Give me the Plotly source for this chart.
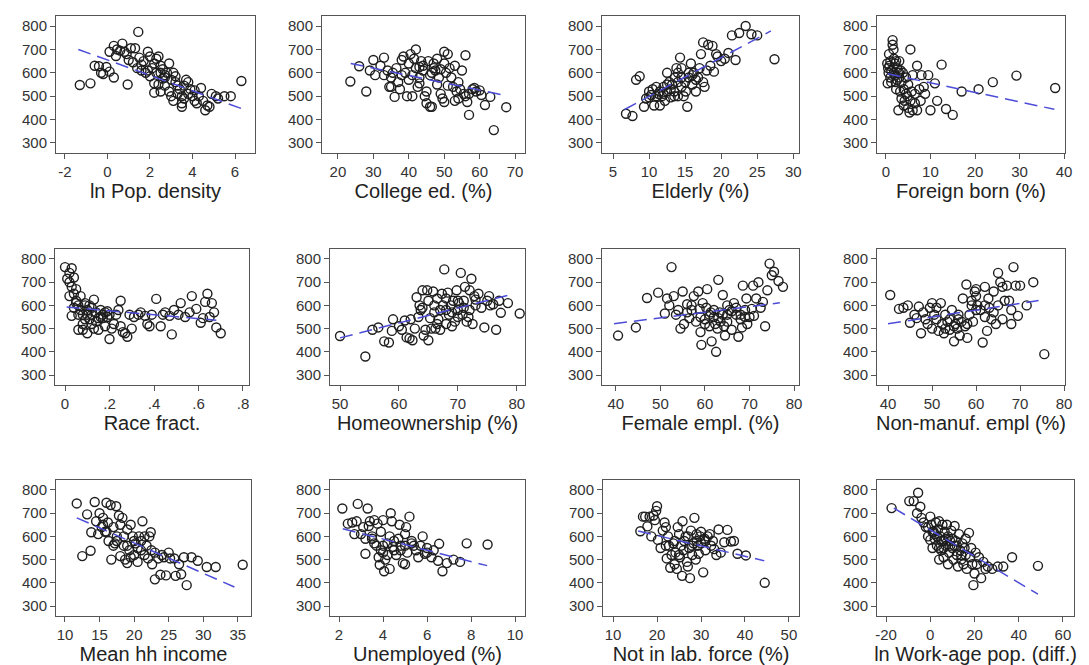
import plotly.graph_objects as go

# ---------------- data ----------------
titles = ["ln Pop. density", "College ed. (%)", "Elderly (%)", "Foreign born (%)",
          "Race fract.", "Homeownership (%)", "Female empl. (%)", "Non-manuf. empl (%)",
          "Mean hh income", "Unemployed (%)", "Not in lab. force (%)", "ln Work-age pop. (diff.)"]

p1 = [(-1.3,548),(-0.8,555),(-0.6,630),(-0.4,628),(-0.3,600),(-0.2,595),(-0.05,625),(0.1,605),(0.3,580),(0.95,550),
      (0.1,690),(0.3,715),(0.45,700),(0.4,672),(0.7,725),(0.8,690),(0.9,680),(1.1,705),(1.3,705),(1.2,645),(1.45,775),
      (1.5,665),(1.6,635),(1.7,650),(1.8,600),(1.9,690),(2.0,670),(2.1,620),(2.2,640),(2.3,660),(2.4,670),(2.5,630),
      (2.5,600),(2.6,615),(2.7,580),(2.9,640),(2.8,600),(3.0,570),(3.1,600),(2.2,555),(2.4,550),(2.5,520),(2.2,515),
      (2.7,545),(2.9,520),(3.0,500),(3.1,480),(3.2,560),(3.3,545),(3.4,530),(3.5,500),(3.5,470),(3.5,455),(3.6,490),
      (3.7,570),(3.8,560),(3.9,530),(4.0,500),(4.1,480),(4.2,470),(4.3,500),(4.4,535),(4.5,480),(4.6,440),(4.7,460),
      (4.8,455),(4.9,510),(5.1,500),(5.2,490),(5.5,500),(5.8,500),(6.3,565),(1.6,610),(1.9,610),(2.0,585),(2.3,600),
      (2.6,575),(3.3,510),(3.6,545),(1.0,655),(1.4,620),(0.6,695),(2.7,590),(3.2,585),(3.8,510),(4.1,525)]
p2 = [(23.5,563),(26,628),(28,520),(29,610),(30,655),(30.5,590),(32,630),(33,665),(33,590),(34,610),(34.5,540),(35,580),
      (35.5,600),(36,497),(36.5,620),(37,560),(37.5,530),(38,655),(38.5,670),(39,600),(39.5,500),(40,570),(40,640),
      (40.5,680),(41,500),(41.5,660),(42,700),(42,620),(42.5,540),(43,580),(43,555),(43.5,650),(44,610),(44.5,500),
      (45,520),(45,470),(45.5,650),(46,455),(46.5,455),(46.5,600),(47,640),(47,620),(47.5,610),(48,660),(48,550),
      (48.5,580),(49,510),(49.5,490),(50,475),(50,690),(50,640),(50.5,600),(51,680),(51.5,620),(52,580),(52.5,540),
      (53,630),(53,480),(53.5,520),(54,490),(54,560),(54.5,530),(55,610),(55.5,510),(56,675),(56.5,475),(57,420),
      (57,510),(58,530),(58.5,535),(59,520),(60,525),(60.5,505),(61.5,462),(63,497),(64,355),(67.5,453),(41,590),
      (44,630),(46,590),(49,615),(38,590),(43,625),(51,545),(56,500),(35,540)]
p3 = [(6.8,425),(7.7,415),(8.2,570),(8.7,585),(9.3,455),(9.6,490),(10.0,520),(10.3,505),(10.5,530),(10.7,460),(11.0,540),
      (11.3,510),(11.5,460),(11.8,500),(12.0,540),(12.2,480),(12.5,600),(12.5,520),(12.8,560),(13.0,495),(13.2,550),
      (13.5,520),(13.6,580),(13.8,620),(14.0,500),(14.0,600),(14.3,665),(14.5,620),(14.5,540),(14.8,500),(15.0,560),
      (15.1,520),(15.3,455),(15.5,580),(15.8,640),(16.0,550),(16.2,600),(16.5,520),(16.8,580),(17.0,620),(17.2,680),
      (17.5,560),(17.7,540),(17.5,730),(18.0,610),(18.2,720),(18.5,630),(18.8,715),(19.0,605),(19.3,680),(19.5,670),
      (20.0,650),(20.5,660),(21.0,685),(21.5,760),(22.0,655),(22.5,770),(23.4,800),(24.2,765),(25.0,760),(27.4,658),
      (11.5,520),(12.0,510),(13.0,530),(14.0,560),(14.5,580),(15.5,600),(16.0,590),(12.5,550),(13.5,500),(16.5,570),
      (11.0,500),(10.0,495)]
p4 = [(0.3,640),(0.4,555),(0.5,620),(0.6,600),(0.8,630),(1.0,650),(1.0,580),(1.2,610),(1.5,740),(1.5,720),(1.7,700),
      (1.8,660),(2.0,640),(2.0,590),(2.2,560),(2.3,530),(2.5,620),(2.7,600),(2.8,440),(3.0,650),(3.0,580),(3.2,520),
      (3.5,490),(3.5,560),(3.8,600),(4.0,460),(4.0,530),(4.2,480),(4.5,580),(4.8,500),(5.0,450),(5.0,550),(5.3,430),
      (5.5,700),(5.5,480),(5.8,520),(6.0,440),(6.0,590),(6.5,470),(7.0,630),(7.0,440),(7.5,530),(7.8,480),(8.0,590),
      (8.5,540),(8.8,510),(9.5,590),(10.0,440),(11.0,555),(11.5,480),(12.5,635),(13.5,445),(15.0,420),(17.0,520),
      (20.8,530),(24.0,560),(29.3,588),(38.0,535),(1.2,560),(1.8,600),(2.5,570),(3.3,610),(4.5,510),(0.7,680),
      (2.3,650),(3.0,600),(6.5,510)]
p5 = [(0.0,765),(0.01,715),(0.02,740),(0.02,700),(0.02,640),(0.03,760),(0.03,680),(0.04,720),(0.04,650),(0.03,555),
      (0.05,670),(0.05,620),(0.06,600),(0.06,495),(0.07,640),(0.07,580),(0.08,495),(0.08,560),(0.09,610),(0.09,540),
      (0.1,480),(0.1,580),(0.11,600),(0.12,560),(0.12,520),(0.13,625),(0.13,500),(0.14,570),(0.15,545),(0.15,495),
      (0.16,580),(0.17,560),(0.18,510),(0.18,570),(0.19,575),(0.2,560),(0.2,455),(0.21,500),(0.22,520),(0.23,560),
      (0.24,580),(0.25,620),(0.25,510),(0.26,485),(0.27,480),(0.28,465),(0.29,560),(0.3,500),(0.31,550),(0.33,560),
      (0.34,570),(0.36,555),(0.37,520),(0.38,510),(0.39,560),(0.41,628),(0.43,510),(0.44,560),(0.45,570),(0.47,555),
      (0.48,475),(0.49,580),(0.51,560),(0.52,610),(0.54,550),(0.56,570),(0.57,640),(0.59,585),(0.61,525),(0.62,545),
      (0.63,615),(0.64,650),(0.65,550),(0.66,610),(0.67,570),(0.68,505),(0.7,480),(0.1,560),(0.11,540),(0.14,530),
      (0.06,560),(0.09,600),(0.12,590),(0.16,550),(0.05,610),(0.08,520),(0.17,545),(0.19,550),(0.04,590)]
p6 = [(50,468),(54.3,380),(55.5,495),(56.5,505),(57.5,445),(58.3,440),(58.8,490),(59,540),(60,510),(60.5,495),(61,535),
      (61.3,462),(61.8,458),(62,540),(62.3,450),(62.7,500),(63,635),(63.3,550),(63.5,600),(64,665),(64,590),(64.2,470),
      (64.5,495),(64.8,665),(65,620),(65,450),(65.3,545),(65.5,500),(65.8,660),(66,600),(66.2,500),(66.5,630),(66.7,540),
      (67,580),(67,495),(67.3,650),(67.7,755),(68,630),(68,520),(68.3,655),(68.5,560),(68.8,600),(69,510),(69.2,620),
      (69.5,530),(69.8,665),(70,580),(70.2,610),(70.5,740),(70.8,560),(71,620),(71.2,680),(71.5,530),(71.8,550),
      (72,665),(72.3,715),(72.5,520),(72.8,640),(73,625),(73.5,650),(74,590),(74.5,505),(75,620),(75.3,640),(75.5,600),
      (76,605),(76.5,495),(77,620),(77.3,568),(78.5,610),(80.5,565),(63.7,580),(66,570),(67.5,600),(69,570),(70,620),
      (71,590),(72,580),(73,600),(68,580),(66.5,520),(70,550)]
p7 = [(40.5,470),(44.5,505),(47,632),(49.5,655),(51,565),(51.5,630),(52,600),(52.5,765),(53,640),(53.5,560),(54,580),
      (54.5,500),(55,660),(55.3,520),(56,605),(56.5,545),(57,580),(57.5,640),(58,530),(58.5,660),(58.8,585),(59,485),
      (59.2,430),(59.5,610),(60,540),(60.3,590),(60.5,670),(61,510),(61.3,570),(61.5,445),(62,550),(62.3,520),(62.5,400),
      (62.8,500),(63,710),(63.3,570),(63.5,530),(64,645),(64.3,510),(64.5,470),(65,560),(65.5,580),(66,495),(66.5,610),
      (67,560),(67.5,465),(68,540),(68.3,505),(68.5,685),(69,580),(69.3,630),(69.5,520),(70,550),(70.5,585),(70.8,685),
      (71,555),(71.5,630),(72,700),(72.5,590),(73,615),(73.5,510),(74,665),(74.5,780),(75,730),(75.5,745),(76.5,705),
      (77.5,680),(61,560),(62,580),(63,545),(64,560),(65,530),(66,575),(67,590),(68,560),(60,520),(59,550),(57,600),
      (56,570),(69,550),(65,600)]
p8 = [(40.5,645),(42.5,585),(43.5,590),(44.5,600),(45,525),(46,560),(47,595),(47.5,480),(48,570),(48.5,540),(49,520),
      (49.5,590),(50,500),(50,610),(50.5,560),(51,590),(51.5,490),(52,610),(52.3,520),(52.7,480),(53,500),(53.5,530),
      (54,495),(54.5,580),(55,445),(55.3,520),(55.7,500),(56,560),(56.3,470),(56.7,530),(57,630),(57.5,510),(57.8,690),
      (58,460),(58.5,560),(59,620),(59.3,530),(59.7,660),(60,670),(60,640),(60.3,600),(61,580),(61.5,440),(62,680),
      (62,550),(62.5,490),(62.8,630),(63,590),(63.5,540),(64,660),(64.5,520),(65,740),(65,600),(65.5,700),(66,680),
      (66,540),(66.5,620),(67,685),(67.5,620),(68,520),(68.5,765),(68,580),(69,685),(69.5,555),(70,685),(71.5,600),
      (73,700),(75.5,390),(54,540),(55,510),(56,540),(58,520),(60,580),(62,600),(64,570),(53,560),(51,540),(59,600),
      (46.5,545)]
p9 = [(11.7,742),(12.5,515),(13.2,695),(13.7,538),(13.8,618),(14.3,748),(14.5,665),(14.8,610),(15.0,700),(15.3,640),
      (15.5,680),(15.8,620),(16.0,745),(16.2,660),(16.3,580),(16.6,735),(16.7,500),(17.0,640),(17.2,570),(17.4,730),
      (17.5,600),(17.8,690),(18.0,650),(18.0,515),(18.3,680),(18.5,560),(18.7,500),(19.0,630),(19.0,485),(19.3,540),
      (19.5,650),(19.8,600),(20.0,520),(20.2,570),(20.5,490),(20.7,600),(21.0,580),(21.2,665),(21.5,520),(21.8,560),
      (22.0,505),(22.2,600),(22.4,618),(22.6,480),(23.0,530),(23.0,415),(23.5,505),(23.8,435),(24.0,520),(24.3,510),
      (24.6,432),(25.0,530),(25.2,505),(25.8,505),(26.0,430),(26.5,480),(26.8,437),(27.2,510),(27.6,390),(28.3,510),
      (29.2,495),(30.5,468),(31.8,468),(35.7,478),(16.0,620),(17.5,580),(19.0,560),(20.0,580),(21.0,540),(18.5,600),
      (15.5,650),(22.5,540),(19.5,510),(20.5,550),(17.0,560),(21.5,600)]
p10 = [(2.15,720),(2.4,655),(2.6,660),(2.7,610),(2.8,665),(2.85,740),(3.0,610),(3.1,640),(3.2,590),(3.2,525),(3.3,720),
       (3.35,645),(3.4,665),(3.5,600),(3.6,670),(3.6,570),(3.7,560),(3.75,655),(3.8,510),(3.85,478),(3.9,540),(4.0,670),
       (4.0,530),(4.05,450),(4.1,500),(4.2,520),(4.3,600),(4.3,460),(4.35,700),(4.4,665),(4.45,555),(4.5,540),(4.6,520),
       (4.7,590),(4.75,650),(4.8,540),(4.9,485),(5.0,610),(5.0,480),(5.05,640),(5.1,530),(5.2,685),(5.3,570),(5.4,560),
       (5.5,540),(5.6,510),(5.7,560),(5.8,600),(5.9,525),(6.0,550),(6.2,510),(6.3,540),(6.5,495),(6.55,568),(6.7,450),
       (6.9,485),(7.2,500),(7.5,490),(7.8,570),(8.75,565),(4.0,560),(4.5,580),(5.0,560),(3.5,590),(4.2,570),(5.3,580),
       (6.0,530),(3.9,620),(4.8,560)]
p11 = [(16.2,622),(16.8,685),(17.3,685),(17.8,643),(18.3,685),(18.7,600),(19.2,690),(19.5,670),(19.8,710),(20.0,730),
       (20.2,585),(20.8,550),(21.3,625),(21.7,660),(22.0,640),(22.2,505),(22.5,600),(22.7,560),(23.0,465),(23.3,520),
       (23.7,570),(24.0,480),(24.2,530),(24.5,460),(24.7,640),(25.0,610),(25.2,510),(25.5,560),(25.7,430),(25.8,665),
       (26.2,580),(26.5,600),(26.8,490),(27.0,470),(27.3,550),(27.5,420),(27.7,625),(28.0,520),(28.3,570),(28.5,680),
       (28.8,500),(29.0,610),(29.3,560),(29.5,525),(29.8,600),(30.0,620),(30.5,445),(30.8,590),(31.0,540),(31.5,600),
       (32.0,610),(32.3,560),(32.7,580),(33.0,545),(33.5,520),(34.0,630),(34.5,530),(35.3,575),(36.0,628),(36.8,578),
       (37.5,580),(38.3,525),(40.2,518),(44.5,400),(24.0,580),(26.0,540),(28.0,560),(30.0,570),(22.0,560),(27.0,600),
       (31.0,580),(25.0,520),(29.0,580)]
p12 = [(-17.5,722),(-9.5,752),(-7.5,752),(-5.5,788),(-4.5,728),(-6,700),(-4,680),(-3,660),(-2,640),(-1,600),(0,685),
       (0,585),(0.5,650),(1,550),(1.5,620),(2,590),(2.5,660),(3,560),(3.5,630),(4,665),(4,500),(4.5,600),(5,540),
       (5.5,650),(6,580),(6,510),(6.5,620),(7,560),(7.5,650),(8,480),(8,600),(8.5,530),(9,580),(9.5,625),(10,550),
       (10.5,500),(11,645),(11.5,580),(12,520),(12.5,470),(13,610),(13.5,540),(14,500),(14.5,570),(15,480),(15.5,550),
       (16,590),(16.5,460),(17.5,615),(18,510),(18.5,550),(19,480),(19.5,390),(20,440),(20.5,530),(21,480),(22,510),
       (23,420),(24,490),(25,460),(26,470),(28,460),(30.5,470),(33,470),(37,510),(48.7,473),(2,610),(3,600),(5,580),
       (7,590),(9,560),(11,560),(4,550),(6,550),(10,590),(12,560),(1,620),(-1,640),(14,520),(16,520)]
points = [p1, p2, p3, p4, p5, p6, p7, p8, p9, p10, p11, p12]

# fitted-line endpoints
fit_x = [(-1.37, 6.31), (23.6, 67.0), (6.6, 26.9), (0.4, 37.8), (0.0075, 0.68), (50.0, 78.4),
         (39.6, 76.8), (40.0, 74.2), (11.7, 34.5), (2.17, 8.73), (15.7, 44.4), (-16.5, 48.7)]
fit_y = [(700, 447), (640, 504), (443, 779), (596, 444), (593, 536), (460, 643),
         (521, 611), (521, 621), (680, 382), (633, 474), (623, 495), (722, 351)]

x_ticks = [[-2, 0, 2, 4, 6], [20, 30, 40, 50, 60, 70], [5, 10, 15, 20, 25, 30], [0, 10, 20, 30, 40],
           [0, 0.2, 0.4, 0.6, 0.8], [50, 60, 70, 80], [40, 50, 60, 70, 80], [40, 50, 60, 70, 80],
           [10, 15, 20, 25, 30, 35], [2, 4, 6, 8, 10], [10, 20, 30, 40, 50], [-20, 0, 20, 40, 60]]
x_ticktext = [["-2", "0", "2", "4", "6"], None, None, None, ["0", ".2", ".4", ".6", ".8"], None, None, None,
              None, None, None, ["-20", "0", "20", "40", "60"]]
y_ticks = [300, 400, 500, 600, 700, 800]

# ---------------- layout geometry ----------------
W, H = 1089, 665
x_ranges = [(-2.42, 6.94), (15.5, 72.8), (3.47, 30.8), (-2.0, 40.2),
            (-0.045, 0.827), (48.3, 81.4), (36.9, 81.1), (37.5, 80.2),
            (8.7, 36.9), (1.59, 10.45), (7.7, 52.3), (-24.1, 65.0)]
x_px = [(48, 247), (314, 517), (594, 791), (869, 1057),
        (47, 241), (322, 517), (594, 791), (869, 1057),
        (48, 243), (322, 517), (595, 791), (869, 1066)]
row_px = [(8, 145), (241, 377), (472, 608)]
y_range = (257, 843)

FONT = "Arial, Liberation Sans, Helvetica, sans-serif"
MARK = "#1e1e1e"
FIT = "#4c4cd8"
FRAME = "#555555"

fig = go.Figure()
layout = dict(width=W, height=H, margin=dict(l=0, r=0, t=0, b=0),
              paper_bgcolor="white", plot_bgcolor="white", showlegend=False,
              font=dict(family=FONT, color="#333333"))

for i in range(12):
    n = i + 1
    sx = "" if n == 1 else str(n)
    xs = [p[0] for p in points[i]]
    ys = [p[1] for p in points[i]]
    fig.add_trace(go.Scatter(x=xs, y=ys, mode="markers", xaxis="x" + sx, yaxis="y" + sx,
                             marker=dict(symbol="circle-open", size=9, color=MARK,
                                         line=dict(width=1.4, color=MARK))))
    fig.add_trace(go.Scatter(x=list(fit_x[i]), y=list(fit_y[i]), mode="lines",
                             xaxis="x" + sx, yaxis="y" + sx,
                             line=dict(color=FIT, width=1.5, dash="13px,7px")))
    r = i // 4
    x0, x1 = x_px[i]
    t0, t1 = row_px[r]
    xa = dict(domain=[x0 / W, x1 / W], range=list(x_ranges[i]), anchor="y" + sx,
              showgrid=False, zeroline=False, showline=True, mirror=True,
              linecolor=FRAME, linewidth=1, ticks="outside", ticklen=5, tickcolor=FRAME,
              tickvals=x_ticks[i], tickfont=dict(size=15, color="#333333"),
              title=dict(text=titles[i], font=dict(size=20, color="#222222"), standoff=2),
              automargin=False, fixedrange=True)
    if x_ticktext[i] is not None:
        xa["ticktext"] = x_ticktext[i]
    ya = dict(domain=[1 - t1 / H, 1 - t0 / H], range=list(y_range), anchor="x" + sx,
              showgrid=False, zeroline=False, showline=True, mirror=True,
              linecolor=FRAME, linewidth=1, ticks="outside", ticklen=5, tickcolor=FRAME,
              tickvals=y_ticks, tickfont=dict(size=15, color="#333333"),
              automargin=False, fixedrange=True)
    layout["xaxis" + sx] = xa
    layout["yaxis" + sx] = ya

fig.update_layout(**layout)
fig.write_html("out.html")
